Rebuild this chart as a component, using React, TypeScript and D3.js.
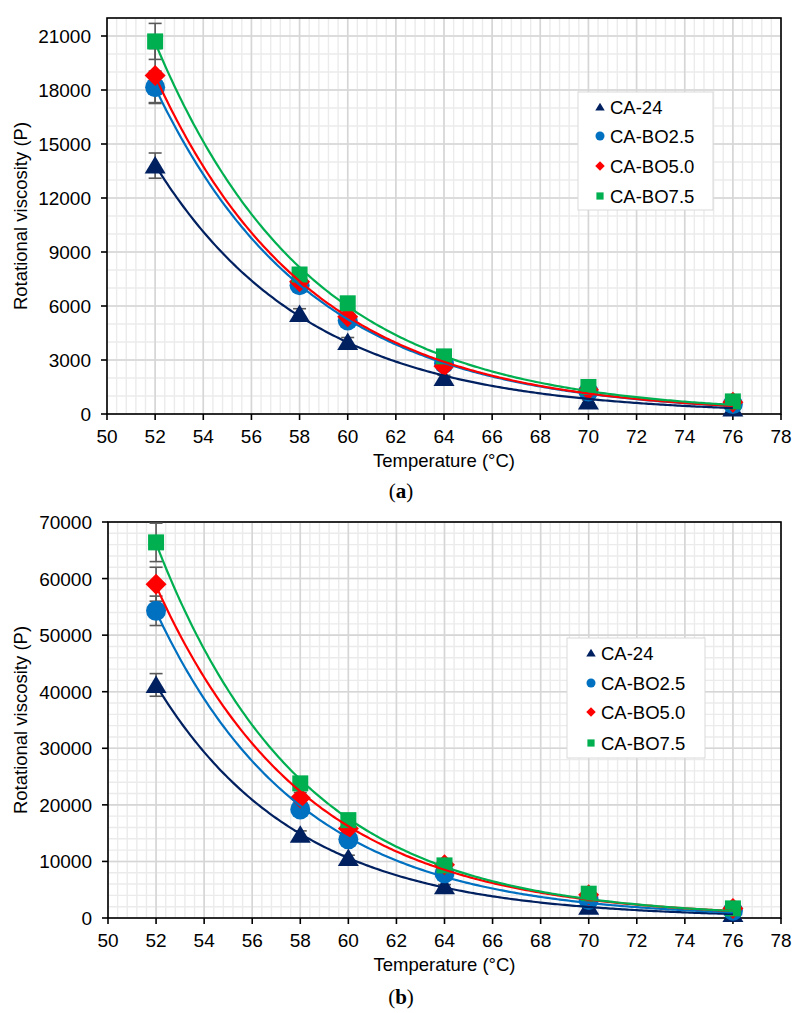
import React from "react";
import * as d3 from "d3";

// ---------- data ----------
const temps = [52, 58, 60, 64, 70, 76];
const seriesNames = ["CA-24", "CA-BO2.5", "CA-BO5.0", "CA-BO7.5"];
const seriesColors = ["#002060", "#0070C0", "#FF0000", "#00B050"];
const seriesShapes = ["triangle", "circle", "diamond", "square"];

// panel (a)
const aCA24 = [13800, 5550, 4000, 2000, 700, 300];
const aBO25 = [18150, 7150, 5200, 2800, 1250, 550];
const aBO50 = [18800, 7350, 5400, 2650, 1350, 650];
const aBO75 = [20700, 7750, 6150, 3200, 1500, 700];
const aErrCA24 = [700, 300, 250, 150, 80, 40];
const aErrBO25 = [900, 300, 250, 150, 80, 40];
const aErrBO50 = [1500, 300, 250, 150, 80, 40];
const aErrBO75 = [1000, 350, 250, 150, 80, 40];
const aYTicks = [0, 3000, 6000, 9000, 12000, 15000, 18000, 21000];

// panel (b)
const bCA24 = [41200, 14700, 10600, 5600, 2000, 700];
const bBO25 = [54300, 19200, 13900, 7900, 3200, 1300];
const bBO50 = [59000, 21200, 15800, 9400, 4100, 1700];
const bBO75 = [66400, 23800, 17300, 9300, 4300, 1700];
const bErrCA24 = [2000, 700, 500, 300, 150, 80];
const bErrBO25 = [2600, 900, 600, 400, 150, 80];
const bErrBO50 = [3000, 1000, 700, 400, 200, 100];
const bErrBO75 = [3400, 1100, 800, 400, 200, 100];
const bYTicks = [0, 10000, 20000, 30000, 40000, 50000, 60000, 70000];

const xTicks = [50, 52, 54, 56, 58, 60, 62, 64, 66, 68, 70, 72, 74, 76, 78];

const FONT = "'Liberation Sans', Arial, sans-serif";

// exponential trendline (log-linear regression weighted by y^2)
function fitExp(xs: number[], ys: number[]) {
  const n = xs.length;
  const ly = ys.map((v) => Math.log(v));
  const w = ys.map((v) => v * v);
  const sw = d3.sum(w);
  let mx = 0, my = 0;
  for (let i = 0; i < n; i++) { mx += w[i] * xs[i]; my += w[i] * ly[i]; }
  mx /= sw; my /= sw;
  let sxy = 0, sxx = 0;
  for (let i = 0; i < n; i++) {
    sxy += w[i] * (xs[i] - mx) * (ly[i] - my);
    sxx += w[i] * (xs[i] - mx) * (xs[i] - mx);
  }
  const b = sxy / sxx;
  const a = Math.exp(my - b * mx);
  return (x: number) => a * Math.exp(b * x);
}

function Marker({ shape, x, y, s, color }: { shape: string; x: number; y: number; s: number; color: string }) {
  const h = s / 2;
  if (shape === "circle") return <circle cx={x} cy={y} r={h} fill={color} />;
  if (shape === "square") return <rect x={x - h * 0.8} y={y - h * 0.8} width={s * 0.8} height={s * 0.8} fill={color} />;
  if (shape === "diamond")
    return <path d={`M${x},${y - h * 1.05}L${x + h * 1.05},${y}L${x},${y + h * 1.05}L${x - h * 1.05},${y}Z`} fill={color} />;
  return <path d={`M${x},${y - h * 0.95}L${x + h * 1.05},${y + h * 0.8}L${x - h * 1.05},${y + h * 0.8}Z`} fill={color} />;
}

type PanelProps = {
  left: number; right: number; top: number; bottom: number;
  yMax: number; yTicks: number[]; yMinorStep: number;
  values: number[][]; errors: number[][];
  legend: { x0: number; x1: number; y0: number; y1: number; mx: number; rows: number[] };
  caption: string; captionY: number;
};

function Panel(p: PanelProps) {
  const x = d3.scaleLinear().domain([50, 78]).range([p.left, p.right]);
  const y = d3.scaleLinear().domain([0, p.yMax]).range([p.bottom, p.top]);
  const xMinor = d3.range(50, 78.0001, 0.4);
  const yMinor = d3.range(0, p.yMax + 1, p.yMinorStep);
  const fx = d3.range(52, 76.0001, 0.1);
  return (
    <g>
      {xMinor.map((t, i) => (
        <line key={"xm" + i} x1={x(t)} x2={x(t)} y1={p.top} y2={p.bottom} stroke="#ebebeb" strokeWidth={1.4} />
      ))}
      {yMinor.map((v, i) => (
        <line key={"ym" + i} x1={p.left} x2={p.right} y1={y(v)} y2={y(v)} stroke="#ebebeb" strokeWidth={1.4} />
      ))}
      {xTicks.map((t) => (
        <line key={"xg" + t} x1={x(t)} x2={x(t)} y1={p.top} y2={p.bottom} stroke="#d6d6d6" strokeWidth={1.6} />
      ))}
      {p.yTicks.map((v) => (
        <line key={"yg" + v} x1={p.left} x2={p.right} y1={y(v)} y2={y(v)} stroke="#d6d6d6" strokeWidth={1.6} />
      ))}
      <rect x={p.left} y={p.top} width={p.right - p.left} height={p.bottom - p.top} fill="none" stroke="#000" strokeWidth={1.6} />
      {xTicks.map((t) => (
        <g key={"xt" + t}>
          <line x1={x(t)} x2={x(t)} y1={p.bottom} y2={p.bottom + 6} stroke="#000" strokeWidth={1.6} />
          <text x={x(t)} y={p.bottom + 29} textAnchor="middle" fontSize={19} fontFamily={FONT} fill="#000">{t}</text>
        </g>
      ))}
      {p.yTicks.map((v) => (
        <g key={"yt" + v}>
          <line x1={p.left - 6} x2={p.left} y1={y(v)} y2={y(v)} stroke="#000" strokeWidth={1.6} />
          <text x={p.left - 16} y={y(v) + 7} textAnchor="end" fontSize={19} fontFamily={FONT} fill="#000">{v}</text>
        </g>
      ))}
      <text x={(p.left + p.right) / 2} y={p.bottom + 53} textAnchor="middle" fontSize={18.5} fontFamily={FONT} fill="#000">
        Temperature (°C)
      </text>
      <text
        transform={`translate(27,${(p.top + p.bottom) / 2}) rotate(-90)`}
        textAnchor="middle" fontSize={18.5} fontFamily={FONT} fill="#000"
      >
        Rotational viscosity (P)
      </text>
      {p.values.map((vals, si) =>
        vals.map((v, i) => {
          const e = p.errors[si][i];
          const cx = x(temps[i]);
          return (
            <g key={"e" + si + "-" + i} stroke="#595959" strokeWidth={1.6}>
              <line x1={cx} x2={cx} y1={y(v - e)} y2={y(v + e)} />
              <line x1={cx - 6.5} x2={cx + 6.5} y1={y(v - e)} y2={y(v - e)} />
              <line x1={cx - 6.5} x2={cx + 6.5} y1={y(v + e)} y2={y(v + e)} />
            </g>
          );
        })
      )}
      {p.values.map((vals, si) =>
        vals.map((v, i) => (
          <Marker key={"m" + si + "-" + i} shape={seriesShapes[si]} x={x(temps[i])} y={y(v)} s={20} color={seriesColors[si]} />
        ))
      )}
      {p.values.map((vals, si) => {
        const f = fitExp(temps, vals);
        const path = d3.line<number>().x((t) => x(t)).y((t) => y(f(t)))(fx) || "";
        return <path key={"tl" + si} d={path} fill="none" stroke={seriesColors[si]} strokeWidth={2.2} />;
      })}
      <rect x={p.legend.x0} y={p.legend.y0} width={p.legend.x1 - p.legend.x0} height={p.legend.y1 - p.legend.y0} fill="#fff" stroke="#d9d9d9" strokeWidth={1} />
      {seriesNames.map((n, i) => (
        <g key={"lg" + n}>
          <Marker shape={seriesShapes[i]} x={p.legend.mx} y={p.legend.rows[i]} s={9} color={seriesColors[i]} />
          <text x={p.legend.mx + 10} y={p.legend.rows[i] + 6.5} fontSize={18.5} fontFamily={FONT} fill="#000">{n}</text>
        </g>
      ))}
      <text x={401} y={p.captionY} textAnchor="middle" fontSize={21} fontFamily="'Liberation Serif', 'Times New Roman', serif" fill="#000">
        (<tspan fontWeight="bold">{p.caption}</tspan>)
      </text>
    </g>
  );
}

export default function App() {
  return (
    <div style={{ position: "absolute", left: 0, top: 0, background: "#fff" }}>
      <svg width={796} height={1013} viewBox="0 0 796 1013" style={{ display: "block" }}>
        <rect width={796} height={1013} fill="#fff" />
        <Panel
          left={107} right={781} top={18} bottom={414}
          yMax={22000} yTicks={aYTicks} yMinorStep={1000}
          values={[aCA24, aBO25, aBO50, aBO75]}
          errors={[aErrCA24, aErrBO25, aErrBO50, aErrBO75]}
          legend={{ x0: 578, x1: 713, y0: 92, y1: 210, mx: 600, rows: [107, 136, 166, 196] }}
          caption="a" captionY={498}
        />
        <Panel
          left={108} right={781} top={522} bottom={918}
          yMax={70000} yTicks={bYTicks} yMinorStep={2000}
          values={[bCA24, bBO25, bBO50, bBO75]}
          errors={[bErrCA24, bErrBO25, bErrBO50, bErrBO75]}
          legend={{ x0: 567, x1: 705, y0: 638, y1: 758, mx: 591, rows: [653, 683, 712, 743] }}
          caption="b" captionY={1004}
        />
      </svg>
    </div>
  );
}
